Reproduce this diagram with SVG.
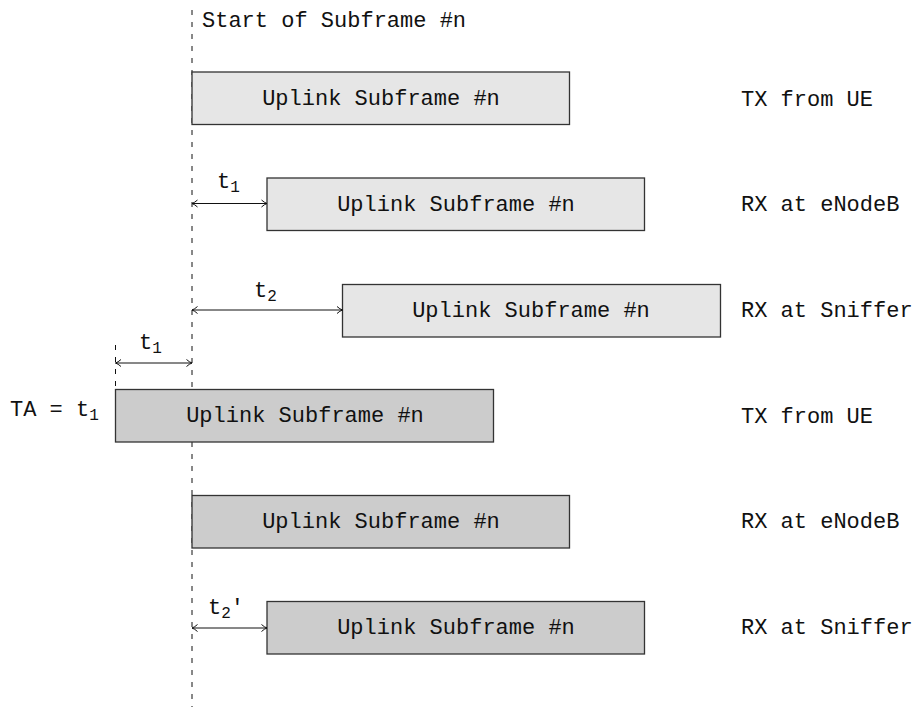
<svg xmlns="http://www.w3.org/2000/svg" width="915" height="707" viewBox="0 0 915 707">
  <style>
    text { font-family: "Liberation Mono", "DejaVu Sans Mono", monospace; font-size: 22px; fill: #111; }
    .mid { text-anchor: middle; }
    .sub { font-size: 16px; }
    .box { stroke: #333; stroke-width: 1.3; }
    .light { fill: #e6e6e6; }
    .dark { fill: #cccccc; }
    .dash { stroke: #111; stroke-width: 1; stroke-dasharray: 5 7; fill: none; }
    .dim { stroke: #111; stroke-width: 1; fill: none; marker-start: url(#tipS); marker-end: url(#tipE); }
  </style>
  <defs>
    <marker id="tipE" viewBox="0 0 8 10" refX="7.5" refY="5" markerWidth="8" markerHeight="10" markerUnits="userSpaceOnUse" orient="auto">
      <path d="M2,1.5 Q5,4.2 7.5,5 Q5,5.8 2,8.5" fill="none" stroke="#111" stroke-width="1"/>
    </marker>
    <marker id="tipS" viewBox="0 0 8 10" refX="0.5" refY="5" markerWidth="8" markerHeight="10" markerUnits="userSpaceOnUse" orient="auto">
      <path d="M6,1.5 Q3,4.2 0.5,5 Q3,5.8 6,8.5" fill="none" stroke="#111" stroke-width="1"/>
    </marker>
  </defs>

  <!-- timing reference lines -->
  <g id="reference-lines">
    <line class="dash" x1="192" y1="10" x2="192" y2="707"/>
    <line class="dash" x1="115.5" y1="345" x2="115.5" y2="389"/>
    <text x="202" y="27">Start of Subframe #n</text>
  </g>

  <!-- subframe boxes -->
  <g id="ue-tx-1">
    <rect class="box light" x="192" y="72" width="377.5" height="52.5"/>
    <text class="mid" x="381" y="105">Uplink Subframe #n</text>
  </g>
  <g id="enb-rx-1">
    <rect class="box light" x="267" y="178" width="377.5" height="52.5"/>
    <text class="mid" x="456" y="211">Uplink Subframe #n</text>
  </g>
  <g id="sniffer-rx-1">
    <rect class="box light" x="342.5" y="284.5" width="378" height="52.5"/>
    <text class="mid" x="531" y="317">Uplink Subframe #n</text>
  </g>
  <g id="ue-tx-2">
    <rect class="box dark" x="115.5" y="389.5" width="378" height="52.5"/>
    <text class="mid" x="305" y="422">Uplink Subframe #n</text>
  </g>
  <g id="enb-rx-2">
    <rect class="box dark" x="192" y="495.5" width="377.5" height="52.5"/>
    <text class="mid" x="381" y="528">Uplink Subframe #n</text>
  </g>
  <g id="sniffer-rx-2">
    <rect class="box dark" x="267" y="601.5" width="377.5" height="52.5"/>
    <text class="mid" x="456" y="634">Uplink Subframe #n</text>
  </g>

  <!-- row labels -->
  <g id="row-labels">
    <text x="741" y="106">TX from UE</text>
    <text x="741" y="211">RX at eNodeB</text>
    <text x="741" y="317">RX at Sniffer</text>
    <text x="741" y="423">TX from UE</text>
    <text x="741" y="528">RX at eNodeB</text>
    <text x="741" y="634">RX at Sniffer</text>
    <text x="10" y="416">TA = t<tspan class="sub" dy="4">1</tspan></text>
  </g>

  <!-- delay dimension arrows -->
  <g id="connectors">
    <line class="dim" x1="192" y1="203.5" x2="267" y2="203.5"/>
    <text x="217" y="188">t<tspan class="sub" dy="4">1</tspan></text>
    <line class="dim" x1="192" y1="310" x2="342.5" y2="310"/>
    <text x="254" y="297">t<tspan class="sub" dy="4">2</tspan></text>
    <line class="dim" x1="115.5" y1="363" x2="192" y2="363"/>
    <text x="139" y="349">t<tspan class="sub" dy="4">1</tspan></text>
    <line class="dim" x1="192" y1="628" x2="267" y2="628"/>
    <text x="208" y="614">t<tspan class="sub" dy="4">2</tspan><tspan dy="-4">'</tspan></text>
  </g>
</svg>
